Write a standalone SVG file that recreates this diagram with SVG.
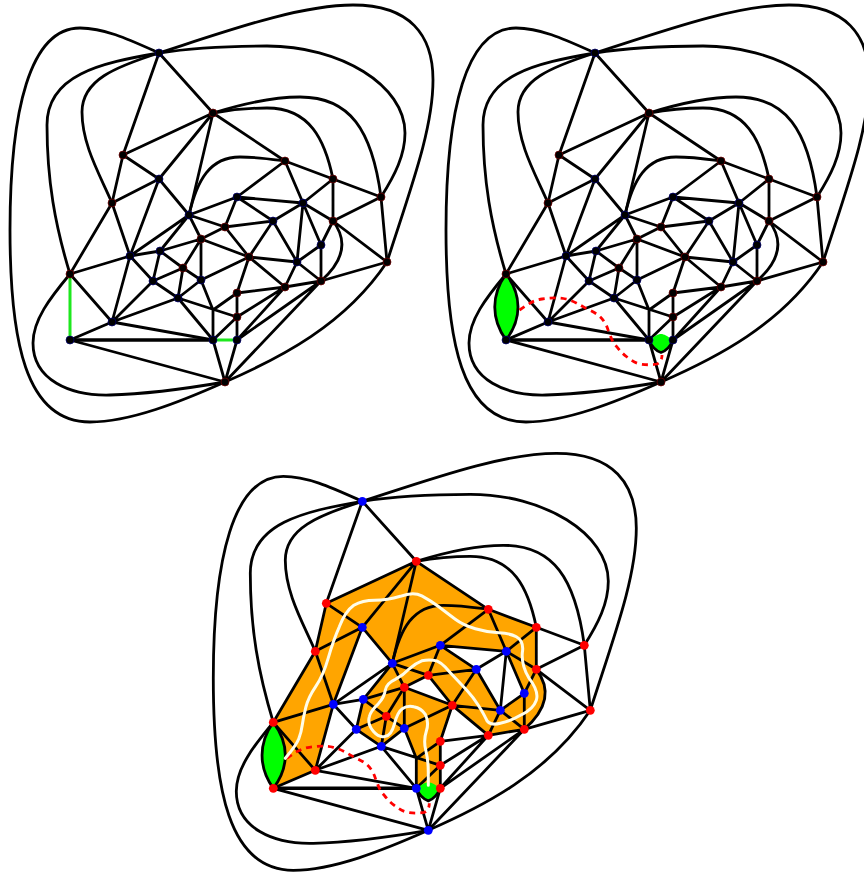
<svg xmlns="http://www.w3.org/2000/svg" width="864" height="874" viewBox="0 0 864 874">
<style>
.edges path{fill:none;stroke:#000;stroke-width:2.8;stroke-linecap:round;stroke-linejoin:round}
.edges path.thick{stroke-width:3.4}
.green{fill:#00ff00;stroke:#000;stroke-width:2.8;stroke-linejoin:round}
.greenfill{fill:#00ff00}
.rim{fill:none;stroke:#000;stroke-width:2.8;stroke-linecap:round}
.greenline{fill:none;stroke:#1ee81e;stroke-width:3}
.dash{fill:none;stroke:#ff0000;stroke-width:2.8;stroke-dasharray:6 5}
.white{fill:none;stroke:#fffde8;stroke-width:3;stroke-linecap:round}
.orange{fill:#ffa500;stroke:#ffa500;stroke-width:.6;stroke-linejoin:round}
.r{fill:#ff0000}
.b{fill:#0000ff}
.dark .r{fill:#000;stroke:#7a0000;stroke-width:.7;r:4px}
.dark .b{fill:#000;stroke:#00007a;stroke-width:.7;r:4px}
</style>
<defs>
<g id="all-edges" class="edges">
<path d="M159,53L123,155M159,53L213,113M213,113L123,155M213,113L159,179M213,113L189,215M213,113L285,161M123,155L159,179M123,155L112,203M112,203L159,179M112,203L130,256M112,203L70,274M159,179L130,256M159,179L189,215M130,256L70,274M130,256L160,251M130,256L189,215M130,256L153,281M130,256L112,322M70,274L112,322M70,340L112,322M70,340L225,382M112,322L213,340M112,322L178,298M112,322L153,281M160,251L153,281M160,251L183,268M160,251L201,239M160,251L189,215M153,281L183,268M153,281L178,298M183,268L201,239M183,268L201,280M183,268L178,298M201,239L189,215M201,239L201,280M201,239L225,227M201,239L249,257M189,215L225,227M189,215L237,197M237,197L225,227M237,197L273,221M237,197L285,161M237,197L303,203M225,227L273,221M225,227L249,257M273,221L303,203M273,221L249,257M273,221L297,262M285,161L303,203M285,161L333,179M303,203L333,179M303,203L333,221M303,203L321,245M303,203L297,262M333,179L333,221M333,179L381,197M381,197L333,221M381,197L387,262M333,221L387,262M333,221L321,245M321,245L297,262M321,245L321,281M297,262L321,281M297,262L249,257M297,262L285,287M249,257L285,287M249,257L237,293M249,257L201,280M201,280L178,298M178,298L213,340M178,298L237,317M201,280L213,310M213,310L213,340M213,310L237,293M237,293L237,317M237,293L285,287M285,287L321,281M321,281L387,262M237,317L237,340M237,317L213,340M237,317L285,287M237,340L285,287M237,340L321,281M237,340L225,382M213,340L225,382M225,382L321,281"/>
<path class="thick" d="M70,340L213,340"/>
<path d="M159,53C230,30 300,5 353,5C410,5 433,35 433,80C433,130 410,190 387,262"/>
<path d="M159,53C130,40 105,28 80,28C30,28 10,110 10,230C10,340 25,422 90,422C130,422 180,402 225,382"/>
<path d="M159,53C100,63 47,75 47,125C47,180 55,225 70,274"/>
<path d="M159,53C115,67 82,80 82,112C82,145 100,175 112,203"/>
<path d="M213,113C245,103 275,97 300,97C350,97 372,130 381,197"/>
<path d="M213,113C235,109 250,108 267,108C310,108 325,140 333,179"/>
<path d="M159,53C190,48 230,46 267,46C340,46 405,85 405,133C405,155 395,175 381,197"/>
<path d="M189,215C197,180 210,157 240,157C257,157 270,159 285,161"/>
<path d="M70,274C50,298 33,320 33,343C33,380 70,396 110,395C150,394 190,388 225,382"/>
<path d="M225,382C280,358 345,325 387,262"/>
<path d="M333,221C346,238 347,258 321,281"/>
</g>
<path id="lens-left" class="green" d="M70,274C55,295 55,319 70,340C86,319 86,295 70,274Z"/>
<g id="lens-small">
<path class="greenfill" d="M213,340C219,336 222,334 225,334C228,334 231,336 237,340C234,347 230,351 225,352C220,351 216,347 213,340Z"/>
<path class="rim" d="M213,340C216,347 220,351 225,352.5C230,351 234,347 237,340"/>
</g>
<path id="dual-path" class="dash" d="M83.5,310C92,304 98,300 106,299C114,298 122,297 130,299C138,301 144,305 151,309C160,313 165,316 169,323C172,328 172,331 174,335C176,340 177,343 181,347C184,351 187,354 191,357C195,360 199,363 204,364C210,365 216,365 221,364C224,363 226,360 226,355"/>
</defs>

<g id="panel-1" class="dark">
<path class="greenline" d="M70,274L70,340M213,340L237,340"/>
<use href="#all-edges"/>
<g id="p1-A"><circle class="b" cx="159" cy="53" r="4"/></g>
<g id="p1-B"><circle class="r" cx="213" cy="113" r="4"/></g>
<g id="p1-C"><circle class="r" cx="123" cy="155" r="4"/></g>
<g id="p1-D"><circle class="b" cx="159" cy="179" r="4"/></g>
<g id="p1-E"><circle class="r" cx="112" cy="203" r="4"/></g>
<g id="p1-F"><circle class="b" cx="189" cy="215" r="4"/></g>
<g id="p1-G"><circle class="b" cx="237" cy="197" r="4"/></g>
<g id="p1-H"><circle class="r" cx="225" cy="227" r="4"/></g>
<g id="p1-I"><circle class="b" cx="273" cy="221" r="4"/></g>
<g id="p1-J"><circle class="r" cx="201" cy="239" r="4"/></g>
<g id="p1-K"><circle class="b" cx="160" cy="251" r="4"/></g>
<g id="p1-L"><circle class="b" cx="130" cy="256" r="4"/></g>
<g id="p1-M"><circle class="r" cx="70" cy="274" r="4"/></g>
<g id="p1-N"><circle class="r" cx="183" cy="268" r="4"/></g>
<g id="p1-O"><circle class="b" cx="153" cy="281" r="4"/></g>
<g id="p1-P"><circle class="b" cx="201" cy="280" r="4"/></g>
<g id="p1-Q"><circle class="r" cx="249" cy="257" r="4"/></g>
<g id="p1-R"><circle class="b" cx="178" cy="298" r="4"/></g>
<g id="p1-S"><circle class="r" cx="237" cy="293" r="4"/></g>
<g id="p1-T"><circle class="r" cx="237" cy="317" r="4"/></g>
<g id="p1-U"><circle class="b" cx="112" cy="322" r="4"/></g>
<g id="p1-V"><circle class="b" cx="70" cy="340" r="4"/></g>
<g id="p1-W"><circle class="b" cx="213" cy="340" r="4"/></g>
<g id="p1-X"><circle class="b" cx="237" cy="340" r="4"/></g>
<g id="p1-Y"><circle class="r" cx="225" cy="382" r="4"/></g>
<g id="p1-Z"><circle class="r" cx="285" cy="161" r="4"/></g>
<g id="p1-a"><circle class="r" cx="333" cy="179" r="4"/></g>
<g id="p1-b"><circle class="r" cx="381" cy="197" r="4"/></g>
<g id="p1-c"><circle class="b" cx="303" cy="203" r="4"/></g>
<g id="p1-d"><circle class="r" cx="333" cy="221" r="4"/></g>
<g id="p1-e"><circle class="b" cx="321" cy="245" r="4"/></g>
<g id="p1-f"><circle class="b" cx="297" cy="262" r="4"/></g>
<g id="p1-g"><circle class="r" cx="387" cy="262" r="4"/></g>
<g id="p1-h"><circle class="r" cx="321" cy="281" r="4"/></g>
<g id="p1-i"><circle class="r" cx="285" cy="287" r="4"/></g>
</g>

<g id="panel-2" class="dark" transform="translate(436,0)">
<use href="#all-edges"/>
<use href="#lens-left"/>
<use href="#lens-small"/>
<use href="#dual-path"/>
<g id="p2-A"><circle class="b" cx="159" cy="53" r="4"/></g>
<g id="p2-B"><circle class="r" cx="213" cy="113" r="4"/></g>
<g id="p2-C"><circle class="r" cx="123" cy="155" r="4"/></g>
<g id="p2-D"><circle class="b" cx="159" cy="179" r="4"/></g>
<g id="p2-E"><circle class="r" cx="112" cy="203" r="4"/></g>
<g id="p2-F"><circle class="b" cx="189" cy="215" r="4"/></g>
<g id="p2-G"><circle class="b" cx="237" cy="197" r="4"/></g>
<g id="p2-H"><circle class="r" cx="225" cy="227" r="4"/></g>
<g id="p2-I"><circle class="b" cx="273" cy="221" r="4"/></g>
<g id="p2-J"><circle class="r" cx="201" cy="239" r="4"/></g>
<g id="p2-K"><circle class="b" cx="160" cy="251" r="4"/></g>
<g id="p2-L"><circle class="b" cx="130" cy="256" r="4"/></g>
<g id="p2-M"><circle class="r" cx="70" cy="274" r="4"/></g>
<g id="p2-N"><circle class="r" cx="183" cy="268" r="4"/></g>
<g id="p2-O"><circle class="b" cx="153" cy="281" r="4"/></g>
<g id="p2-P"><circle class="b" cx="201" cy="280" r="4"/></g>
<g id="p2-Q"><circle class="r" cx="249" cy="257" r="4"/></g>
<g id="p2-R"><circle class="b" cx="178" cy="298" r="4"/></g>
<g id="p2-S"><circle class="r" cx="237" cy="293" r="4"/></g>
<g id="p2-T"><circle class="r" cx="237" cy="317" r="4"/></g>
<g id="p2-U"><circle class="b" cx="112" cy="322" r="4"/></g>
<g id="p2-V"><circle class="b" cx="70" cy="340" r="4"/></g>
<g id="p2-W"><circle class="b" cx="213" cy="340" r="4"/></g>
<g id="p2-X"><circle class="b" cx="237" cy="340" r="4"/></g>
<g id="p2-Y"><circle class="r" cx="225" cy="382" r="4"/></g>
<g id="p2-Z"><circle class="r" cx="285" cy="161" r="4"/></g>
<g id="p2-a"><circle class="r" cx="333" cy="179" r="4"/></g>
<g id="p2-b"><circle class="r" cx="381" cy="197" r="4"/></g>
<g id="p2-c"><circle class="b" cx="303" cy="203" r="4"/></g>
<g id="p2-d"><circle class="r" cx="333" cy="221" r="4"/></g>
<g id="p2-e"><circle class="b" cx="321" cy="245" r="4"/></g>
<g id="p2-f"><circle class="b" cx="297" cy="262" r="4"/></g>
<g id="p2-g"><circle class="r" cx="387" cy="262" r="4"/></g>
<g id="p2-h"><circle class="r" cx="321" cy="281" r="4"/></g>
<g id="p2-i"><circle class="r" cx="285" cy="287" r="4"/></g>
</g>

<g id="panel-3" transform="translate(203.3,448.3)">
<path id="faces" class="orange" d="M70,274L70,340L112,322ZM70,274L112,322L130,256ZM70,274L130,256L112,203ZM112,203L130,256L159,179ZM112,203L159,179L123,155ZM123,155L159,179L213,113ZM159,179L189,215L213,113ZM213,113L189,215L237,197L285,161ZM285,161L237,197L303,203ZM285,161L303,203L333,179ZM333,179L303,203L333,221ZM303,203L333,221L321,245ZM333,221C346,238 347,258 321,281L321,245ZM321,245L297,262L321,281ZM297,262L321,281L285,287ZM249,257L297,262L285,287ZM273,221L297,262L249,257ZM225,227L273,221L249,257ZM237,197L225,227L273,221ZM189,215L237,197L225,227ZM189,215L225,227L201,239ZM189,215L160,251L201,239ZM160,251L201,239L183,268ZM160,251L183,268L153,281ZM153,281L183,268L178,298ZM183,268L178,298L201,280ZM183,268L201,239L201,280ZM201,239L249,257L201,280ZM201,280L249,257L237,293ZM201,280L237,293L213,310ZM213,310L237,293L237,317ZM213,310L237,317L213,340ZM237,317L213,340L237,340Z"/>
<use href="#all-edges"/>
<use href="#lens-left"/>
<use href="#lens-small"/>
<use href="#dual-path"/>
<path id="primal-path" class="white" transform="translate(-203,-448)" d="M285,758Q296,745 298.5,738.5Q301,732 302,724.5Q303,717 305.5,707Q308,697 315.5,686Q323,675 328,657.5Q333,640 339,626.5Q345,611 353.5,605Q362,600 374.5,600Q387,600 400,596Q413,591 421.5,595.5Q430,600 438.5,606.5Q447,613 455,619Q463,625 475,628.5Q487,632 498.5,632.5Q510,633 516,636.5Q524,641 522,652.5Q521,665 528.5,677.5Q539,691 536,700Q533,709 521,714.5Q510,721 500,723Q488,726 485.5,718Q483,713 478,705Q473,697 466.5,690Q460,683 450,672.5Q440,660 433,660Q428,659 421.5,660.5Q415,663 409,668.5Q403,675 395,679Q386,683 385,690Q384,697 378,703.5Q370,711 369,716.5Q367,724 373,731Q379,738 385,736Q391,735 394,724Q397,712 402,708.5Q407,705 413.5,706.5Q421,708 425,714Q429,722 426,731Q423,740 425.5,750Q428,760 428,772.5L428,785"/>
<g id="p3-A"><circle class="b" cx="159" cy="53" r="4.4"/></g>
<g id="p3-B"><circle class="r" cx="213" cy="113" r="4.4"/></g>
<g id="p3-C"><circle class="r" cx="123" cy="155" r="4.4"/></g>
<g id="p3-D"><circle class="b" cx="159" cy="179" r="4.4"/></g>
<g id="p3-E"><circle class="r" cx="112" cy="203" r="4.4"/></g>
<g id="p3-F"><circle class="b" cx="189" cy="215" r="4.4"/></g>
<g id="p3-G"><circle class="b" cx="237" cy="197" r="4.4"/></g>
<g id="p3-H"><circle class="r" cx="225" cy="227" r="4.4"/></g>
<g id="p3-I"><circle class="b" cx="273" cy="221" r="4.4"/></g>
<g id="p3-J"><circle class="r" cx="201" cy="239" r="4.4"/></g>
<g id="p3-K"><circle class="b" cx="160" cy="251" r="4.4"/></g>
<g id="p3-L"><circle class="b" cx="130" cy="256" r="4.4"/></g>
<g id="p3-M"><circle class="r" cx="70" cy="274" r="4.4"/></g>
<g id="p3-N"><circle class="r" cx="183" cy="268" r="4.4"/></g>
<g id="p3-O"><circle class="b" cx="153" cy="281" r="4.4"/></g>
<g id="p3-P"><circle class="b" cx="201" cy="280" r="4.4"/></g>
<g id="p3-Q"><circle class="r" cx="249" cy="257" r="4.4"/></g>
<g id="p3-R"><circle class="b" cx="178" cy="298" r="4.4"/></g>
<g id="p3-S"><circle class="r" cx="237" cy="293" r="4.4"/></g>
<g id="p3-T"><circle class="r" cx="237" cy="317" r="4.4"/></g>
<g id="p3-U"><circle class="r" cx="112" cy="322" r="4.4"/></g>
<g id="p3-V"><circle class="r" cx="70" cy="340" r="4.4"/></g>
<g id="p3-W"><circle class="b" cx="213" cy="340" r="4.4"/></g>
<g id="p3-X"><circle class="r" cx="237" cy="340" r="4.4"/></g>
<g id="p3-Y"><circle class="b" cx="225" cy="382" r="4.4"/></g>
<g id="p3-Z"><circle class="r" cx="285" cy="161" r="4.4"/></g>
<g id="p3-a"><circle class="r" cx="333" cy="179" r="4.4"/></g>
<g id="p3-b"><circle class="r" cx="381" cy="197" r="4.4"/></g>
<g id="p3-c"><circle class="b" cx="303" cy="203" r="4.4"/></g>
<g id="p3-d"><circle class="r" cx="333" cy="221" r="4.4"/></g>
<g id="p3-e"><circle class="b" cx="321" cy="245" r="4.4"/></g>
<g id="p3-f"><circle class="b" cx="297" cy="262" r="4.4"/></g>
<g id="p3-g"><circle class="r" cx="387" cy="262" r="4.4"/></g>
<g id="p3-h"><circle class="r" cx="321" cy="281" r="4.4"/></g>
<g id="p3-i"><circle class="r" cx="285" cy="287" r="4.4"/></g>
</g>
</svg>
